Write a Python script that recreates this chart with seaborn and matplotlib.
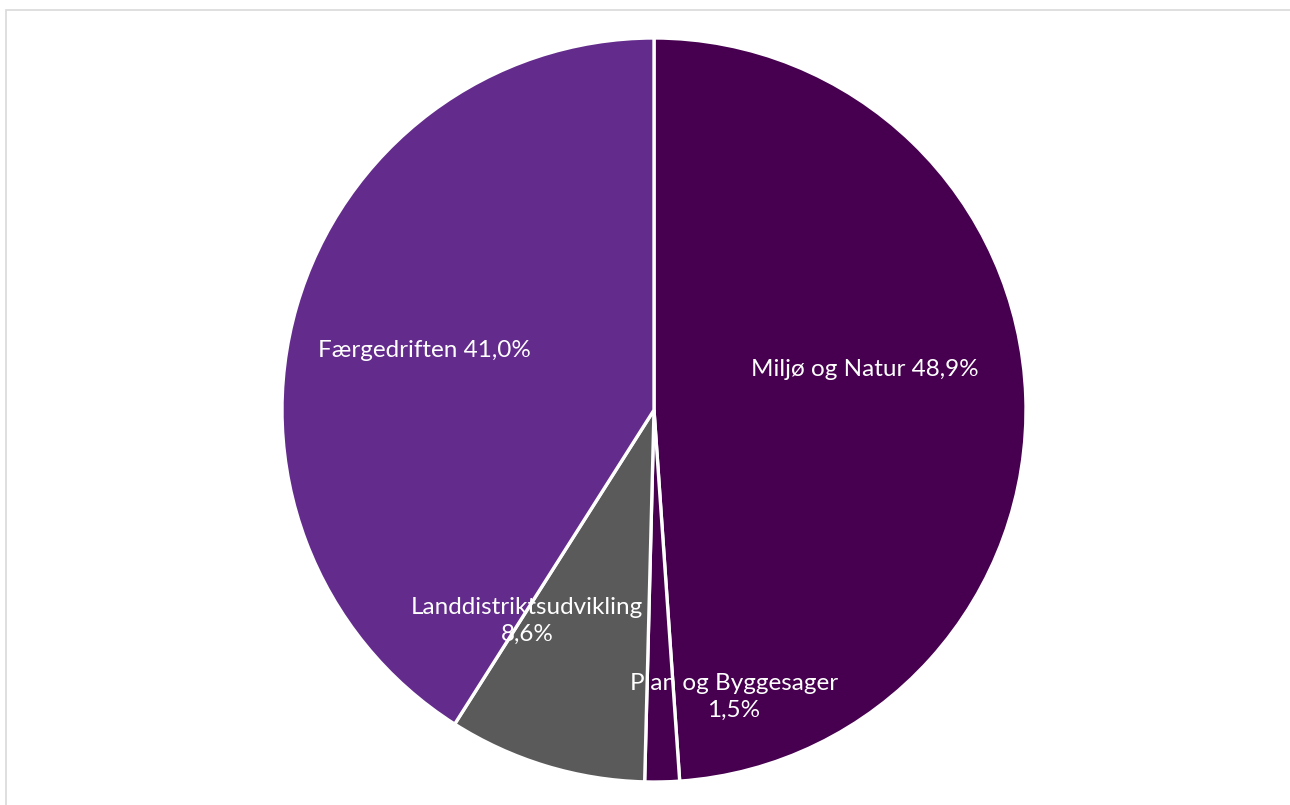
import matplotlib
matplotlib.use("Agg")
import matplotlib.pyplot as plt
import seaborn as sns
from matplotlib.patches import Rectangle

# data
categories = ["Miljø og Natur", "Plan og Byggesager", "Landdistriktsudvikling", "Færgedriften"]
shares = [48.9, 1.5, 8.6, 41.0]
colors = ["#46004F", "#46004F", "#5A5A5A", "#632B8C"]
label_texts = ["Miljø og Natur 48,9%", "Plan og Byggesager\n1,5%",
               "Landdistriktsudvikling\n8,6%", "Færgedriften 41,0%"]
label_pos = [(0.567, 0.110), (0.215, -0.772), (-0.341, -0.567), (-0.616, 0.161)]

sns.set_style("white")
plt.rcParams["font.family"] = ["Lato", "DejaVu Sans"]

W, H = 1290, 805
fig = plt.figure(figsize=(W / 100, H / 100), dpi=100)

# light grey chart frame (right/bottom edges lie outside the picture)
fig.patches.append(Rectangle((6 / W, -0.1), 1.2, 1 - 10 / H + 0.1, transform=fig.transFigure,
                             fill=False, edgecolor="#D9D9D9", linewidth=1.2))

cx, cy, r = 654, 410, 372
ax = fig.add_axes([(cx - r) / W, (H - cy - r) / H, 2 * r / W, 2 * r / H])
ax.pie(shares, colors=colors, startangle=90, counterclock=False, radius=1,
       wedgeprops=dict(edgecolor="white", linewidth=2.4))
ax.set_xlim(-1, 1)
ax.set_ylim(-1, 1)
ax.set_aspect("equal")
ax.axis("off")

for txt, (x, y) in zip(label_texts, label_pos):
    ax.text(x, y, txt, ha="center", va="center", color="white", fontsize=17.5,
            linespacing=1.35)

fig.savefig("out.png", dpi=100)
